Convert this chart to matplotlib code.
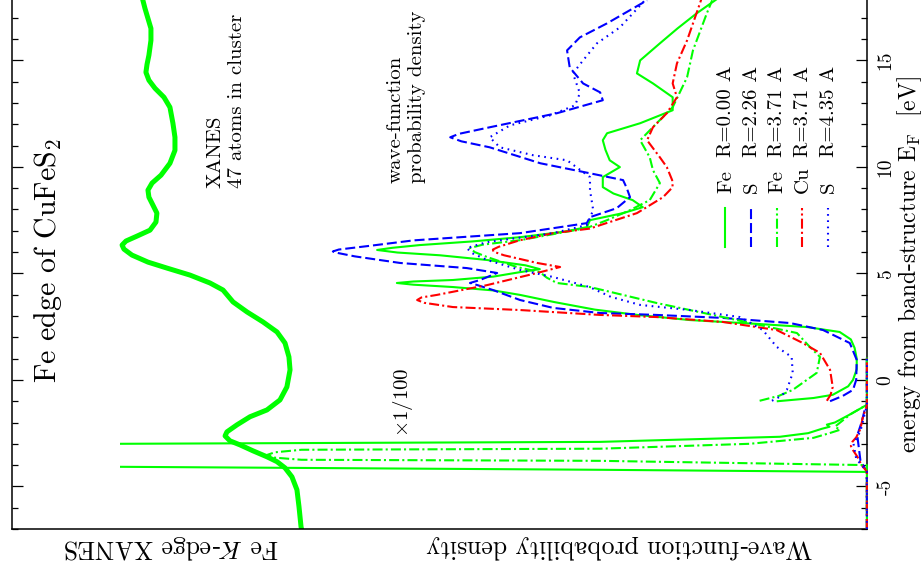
import matplotlib.pyplot as plt
from matplotlib.lines import Line2D
from matplotlib.ticker import MultipleLocator
import numpy as np

plt.rcParams['font.family'] = 'serif'
plt.rcParams['font.serif'] = ['cmr10']
plt.rcParams['mathtext.fontset'] = 'cm'
plt.rcParams['axes.unicode_minus'] = False

nan = np.nan

# Fe K-edge XANES, normalised absorption against energy from E_F (eV)
xanes_energy = [-7.0, -6.89, -5.95, -5.16, -4.55, -4.13, -3.84, -3.61, -3.33, -3.05,
                -2.86, -2.63, -2.44, -2.11, -1.73, -1.41, -0.94, -0.33, 0.47, 1.08,
                1.73, 2.25, 2.72, 3.19, 3.66, 4.22, 4.55, 4.92, 5.25, 5.53,
                5.86, 6.14, 6.33, 6.52, 6.75, 7.03, 7.41, 7.83, 8.20, 8.58,
                8.91, 9.24, 9.61, 10.17, 10.78, 11.39, 12.05, 12.80, 13.27, 13.69,
                14.07, 14.44, 14.81, 15.24, 15.94, 16.50, 16.97, 17.44, 17.9]
xanes_mu = [0.003, 0.006, 0.019, 0.032, 0.064, 0.108, 0.159, 0.223, 0.312, 0.395,
            0.459, 0.490, 0.478, 0.414, 0.331, 0.223, 0.140, 0.096, 0.076, 0.083,
            0.108, 0.159, 0.248, 0.350, 0.439, 0.503, 0.586, 0.713, 0.860, 0.981,
            1.083, 1.134, 1.146, 1.121, 1.051, 0.968, 0.930, 0.924, 0.949, 0.975,
            0.981, 0.955, 0.898, 0.841, 0.809, 0.809, 0.822, 0.841, 0.879, 0.936,
            0.975, 0.994, 0.987, 0.975, 0.962, 0.962, 0.981, 1.0, 1.016]

# wave-function probability density per site (nan splits the occupied
# band from the unoccupied states)
fe0_energy = [-7.0, -4.32, -4.22, -4.08, -4.0, -3.5, -3.1, -3.0, -2.91, -2.67,
              -2.5, -2.3, -2.2, -2.1, -2.0, -1.6, -1.17, 1.0, nan,
              -1.0, -0.85, -0.7, -0.3, 0.0, 0.5, 1.0, 1.5, 1.9, 2.25,
              2.48, 2.63, 2.81, 3.05, 3.3, 3.65, 3.99, 4.2, 4.36, 4.47,
              4.55, 4.62, 4.69, 4.85, 5.06, 5.2, 5.38, 5.63, 5.85, 5.98,
              6.1, 6.2, 6.33, 6.5, 6.7, 6.95, 7.17, 7.5, 7.83, 8.11,
              8.44, 8.75, 9.05, 9.52, 9.99, 10.31, 10.8, 11.25, 11.58, 12.05,
              12.66, 13.27, 13.92, 14.39, 15.0, 15.8, 16.5, 17.21, 17.9]
fe0_density = [0, 0, 0.5, 1.4, 2.5, 4.0, 2.5, 1.4, 0.5, 0.163,
               0.11, 0.085, 0.07, 0.075, 0.06, 0.03, 0, 0, nan,
               0.167, 0.10, 0.064, 0.035, 0.026, 0.019, 0.019, 0.023, 0.03, 0.051,
               0.112, 0.206, 0.332, 0.43, 0.51, 0.585, 0.65, 0.70, 0.776, 0.85,
               0.881, 0.85, 0.776, 0.70, 0.65, 0.613, 0.64, 0.712, 0.80, 0.88,
               0.918, 0.89, 0.838, 0.74, 0.65, 0.57, 0.525, 0.519, 0.457, 0.42,
               0.439, 0.475, 0.495, 0.495, 0.463, 0.482, 0.49, 0.495, 0.487, 0.425,
               0.364, 0.364, 0.401, 0.431, 0.425, 0.388, 0.355, 0.319, 0.28]

s1_energy = [-7.0, -4.3, -3.8, -3.2, -2.6, -2.0, -1.3, -1.2, 1.0, nan,
             -1.0, -0.75, -0.47, 0.0, 0.94, 1.73, 2.34, 2.67, 2.91, 3.05,
             3.14, 3.38, 3.75, 4.22, 4.45, 4.55, 4.69, 5.02, 5.25, 5.49,
             5.8, 5.95, 6.03, 6.12, 6.3, 6.55, 6.89, 7.36, 7.64, 8.06,
             8.58, 9.0, 9.38, 9.70, 10.17, 10.92, 11.2, 11.39, 11.55, 11.86,
             12.52, 13.13, 13.5, 13.92, 14.67, 15.47, 16.08, 16.74, 17.82]
s1_density = [0, 0, 0.012, 0.015, 0.018, 0.01, 0.003, 0, 0, nan,
              0.069, 0.045, 0.026, 0.02, 0.019, 0.032, 0.082, 0.144, 0.27, 0.394,
              0.5, 0.588, 0.65, 0.701, 0.73, 0.744, 0.725, 0.693, 0.75, 0.875,
              0.96, 0.99, 1.001, 0.99, 0.93, 0.85, 0.65, 0.525, 0.519, 0.469,
              0.444, 0.45, 0.457, 0.519, 0.612, 0.707, 0.76, 0.781, 0.765, 0.707,
              0.581, 0.495, 0.50, 0.532, 0.557, 0.562, 0.538, 0.487, 0.412]

fe2_energy = [-7.0, -4.0, -3.9, -3.80, -3.75, -3.65, -3.52, -3.4, -3.28, -3.23,
              -3.0, -2.72, -2.5, -2.34, -2.2, -1.6, -1.17, 1.0, nan,
              -0.98, -0.75, -0.47, 0.33, 1.08, 1.55, 2.2, 2.95, 3.61, 4.36,
              4.55, 4.8, 5.06, 5.30, 5.77, 6.0, 6.19, 6.35, 6.56, 7.13,
              7.50, 7.97, 8.44, 9.24, 9.85, 10.45, 11.25, 12.05, 12.80, 14.21,
              15.47, 17.21, 17.82]
fe2_density = [0, 0, 0.25, 0.5, 1.06, 1.11, 1.124, 1.11, 1.06, 0.5,
               0.22, 0.10, 0.07, 0.05, 0.06, 0.03, 0, 0, nan,
               0.201, 0.165, 0.139, 0.094, 0.088, 0.107, 0.131, 0.27, 0.394, 0.519,
               0.581, 0.60, 0.613, 0.656, 0.712, 0.735, 0.744, 0.72, 0.65, 0.525,
               0.487, 0.444, 0.407, 0.388, 0.401, 0.407, 0.425, 0.394, 0.364, 0.337,
               0.326, 0.30, 0.29]

cu_energy = [-7.0, -4.3, -4.0, -3.6, -3.3, -3.1, -2.9, -2.7, -2.3, -1.8, -1.2, 1.0, nan,
             -0.98, -0.7, -0.33, 0.47, 1.27, 1.73, 2.34, 2.72, 2.95, 3.05,
             3.28, 3.42, 3.62, 3.75, 3.87, 3.99, 4.45, 5.02, 5.30, 5.49,
             5.85, 6.02, 6.12, 6.25, 6.56, 6.89, 7.1, 7.83, 8.58, 9.05,
             9.38, 9.99, 10.45, 11.25, 11.86, 12.52, 13.27, 13.92, 14.86, 15.94,
             17.67, 17.9]
cu_density = [0, 0, 0.01, 0.018, 0.026, 0.03, 0.027, 0.02, 0.012, 0.008, 0, 0, nan,
              0.075, 0.068, 0.064, 0.069, 0.088, 0.12, 0.169, 0.27, 0.394, 0.5,
              0.65, 0.776, 0.83, 0.843, 0.835, 0.806, 0.712, 0.618, 0.575, 0.618,
              0.68, 0.70, 0.701, 0.69, 0.65, 0.588, 0.52, 0.431, 0.382, 0.364,
              0.365, 0.375, 0.388, 0.412, 0.401, 0.375, 0.356, 0.364, 0.356, 0.337,
              0.313, 0.31]

s2_energy = [-7.0, -4.3, -3.7, -3.0, -2.4, -1.2, 1.0, nan,
             -0.98, -0.75, -0.47, 0.33, 1.08, 1.55, 2.34, 2.95, 3.28, 3.52,
             3.9, 4.36, 4.83, 5.16, 5.63, 5.95, 6.19, 6.47, 6.89, 7.27,
             7.97, 8.91, 9.52, 10.31, 10.55, 10.92, 11.39, 11.95, 12.42, 12.89,
             13.46, 14.39, 15.0, 15.8, 16.55, 17.82]
s2_density = [0, 0, 0.02, 0.025, 0.012, 0, 0, nan,
              0.178, 0.16, 0.15, 0.139, 0.141, 0.169, 0.195, 0.238, 0.332, 0.425,
              0.48, 0.52, 0.588, 0.65, 0.712, 0.74, 0.75, 0.712, 0.588, 0.525,
              0.513, 0.519, 0.519, 0.562, 0.626, 0.688, 0.707, 0.669, 0.594, 0.547,
              0.538, 0.551, 0.532, 0.506, 0.463, 0.416]

species = ['Fe', 'S', 'Fe', 'Cu', 'S']
radius = [0.00, 2.26, 3.71, 3.71, 4.35]
energy_ticks = [-5, 0, 5, 10, 15]

curves = [(fe0_energy, fe0_density), (s1_energy, s1_density), (fe2_energy, fe2_density),
          (cu_energy, cu_density), (s2_energy, s2_density)]
colors = ['#00ff00', '#0000ff', '#00ff00', '#ff0000', '#0000ff']
styles = ['-', (0, (4.8, 1.9)), (0, (4.8, 1.5, 1.0, 1.5)), (0, (4.8, 1.5, 1.0, 1.5)),
          (0, (0.8, 2.2))]

W, H = 924, 577
fig = plt.figure(figsize=(W / 100, H / 100), dpi=100)


def fx(px):
    return px / W


def fy(py):
    return 1 - py / H


# frame + XANES curve
ax = fig.add_axes([fx(12), fy(529), (867 - 12) / W, 532.5 / H])
ax.set_ylim(-7, 18)
ax.set_xlim(1.847, -3.599)
ax.plot(xanes_mu, xanes_energy, color='#00ff00', lw=3.6,
        solid_joinstyle='round', solid_capstyle='round')
ax.spines['top'].set_visible(False)
for side in ('left', 'right', 'bottom'):
    ax.spines[side].set_linewidth(1.1)
ax.set_xticks([])
ax.set_yticks(energy_ticks, labels=[str(t) for t in energy_ticks])
ax.yaxis.set_minor_locator(MultipleLocator(1))
ax.tick_params(axis='y', which='both', direction='in', left=True, right=True,
               labelleft=False, labelright=True, labelsize=14, pad=7, width=0.9,
               labelrotation=90)
ax.tick_params(axis='y', which='major', length=8)
ax.tick_params(axis='y', which='minor', length=4.5)
plt.setp(ax.get_yticklabels(), va='center')

# wave-function densities, clipped at the left of their own panel
wf = fig.add_axes([fx(120), fy(529), (869 - 120) / W, 532.5 / H])
wf.set_xlim(1.4, -0.004)
wf.set_ylim(-7, 18)
wf.axis('off')
wf.patch.set_alpha(0)
for (e, d), c, ls in zip(curves, colors, styles):
    wf.plot(d, e, color=c, lw=1.5, linestyle=ls, solid_joinstyle='round')

# legend
for i, (sp, r, c, ls) in enumerate(zip(species, radius, colors, styles)):
    x = 725 + 25.75 * i
    fig.add_artist(Line2D([fx(x), fx(x)], [fy(247), fy(208)], color=c, lw=1.5,
                          linestyle=ls, transform=fig.transFigure))
    fig.text(fx(x + 1), fy(193), sp, rotation=90, ha='center', va='bottom', fontsize=15)
    fig.text(fx(x + 1), fy(157), f'R={r:.2f} A', rotation=90, ha='center',
             va='bottom', fontsize=15)

fig.text(fx(48), fy(383), 'Fe edge of CuFeS$_2$', rotation=90, ha='center',
         va='bottom', fontsize=21.5)
fig.text(fx(226.5), fy(188), 'XANES\n47 atoms in cluster', rotation=90, ha='center',
         va='bottom', multialignment='left', fontsize=15, linespacing=1.25)
fig.text(fx(406.5), fy(183), 'wave-function\nprobability density', rotation=90,
         ha='center', va='bottom', multialignment='left', fontsize=15, linespacing=1.25)
fig.text(fx(403), fy(437), r'$\times$1/100', rotation=90, ha='center', va='bottom',
         fontsize=15)

fig.text(fx(910), fy(265), r'energy from band-structure E$_{\mathrm{F}}$  [eV]',
         rotation=90, ha='center', va='center', fontsize=17)
fig.text(fx(171), fy(547), r'Fe $K$-edge XANES', rotation=180, ha='center',
         va='center', fontsize=18.5)
fig.text(fx(619.5), fy(547), 'Wave-function probability density', rotation=180,
         ha='center', va='center', fontsize=18.5)

fig.savefig('out.png', dpi=100)
